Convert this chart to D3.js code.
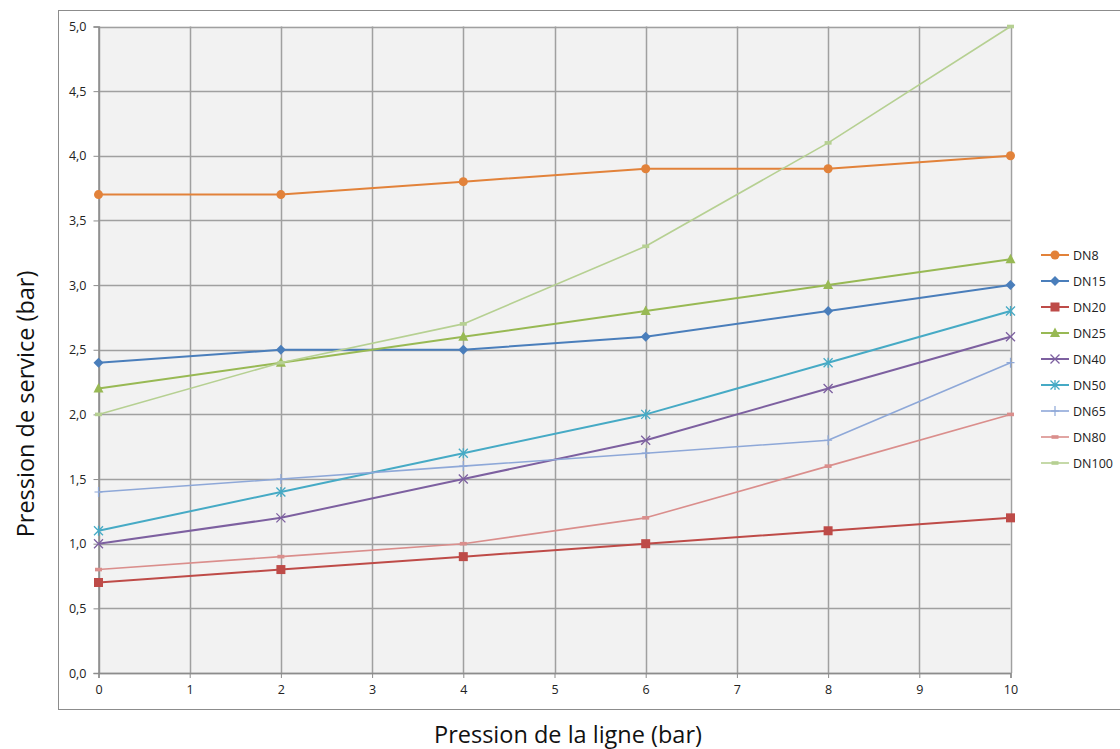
<!DOCTYPE html>
<html><head><meta charset="utf-8">
<script src="https://cdn.jsdelivr.net/npm/d3@7"></script>
<style>body{margin:0;background:#fff}svg{display:block}</style>
</head><body>
<svg id="c" width="1120" height="749"></svg>
<script>
const xValues = [0, 2, 4, 6, 8, 10];
const seriesNames = ["DN8","DN15","DN20","DN25","DN40","DN50","DN65","DN80","DN100"];
const DN8   = [3.7, 3.7, 3.8, 3.9, 3.9, 4.0];
const DN15  = [2.4, 2.5, 2.5, 2.6, 2.8, 3.0];
const DN20  = [0.7, 0.8, 0.9, 1.0, 1.1, 1.2];
const DN25  = [2.2, 2.4, 2.6, 2.8, 3.0, 3.2];
const DN40  = [1.0, 1.2, 1.5, 1.8, 2.2, 2.6];
const DN50  = [1.1, 1.4, 1.7, 2.0, 2.4, 2.8];
const DN65  = [1.4, 1.5, 1.6, 1.7, 1.8, 2.4];
const DN80  = [0.8, 0.9, 1.0, 1.2, 1.6, 2.0];
const DN100 = [2.0, 2.4, 2.7, 3.3, 4.1, 5.0];
const xTicks = [0,1,2,3,4,5,6,7,8,9,10];
const yTicks = [0,0.5,1,1.5,2,2.5,3,3.5,4,4.5,5];
const xTitle = "Pression de la ligne (bar)";
const yTitle = "Pression de service (bar)";

const seriesValues = [DN8, DN15, DN20, DN25, DN40, DN50, DN65, DN80, DN100];
const colors = ["#E2823A","#4A7EBB","#BE4B48","#98B954","#7D60A0","#46AAC5","#8EA8D8","#DA8E8C","#B6D092"];
const widths = [2,2,2,2,2,2,1.6,1.6,1.6];
const markers = ["circle","diamond","square","triangle","x","star","plus","dash","dash"];

const svg = d3.select("#c");
const L = 98.5, R = 1010.5, T = 26.5, B = 673;
const x = d3.scaleLinear().domain([0,10]).range([L,R]);
const y = d3.scaleLinear().domain([0,5]).range([B,T]);
const font = "'Open Sans', sans-serif";

// outer border
svg.append("rect").attr("x",58.5).attr("y",10.5).attr("width",1100).attr("height",699)
  .attr("fill","#fff").attr("stroke","#8c8c8c").attr("stroke-width",1);
// plot background
svg.append("rect").attr("x",L).attr("y",T).attr("width",R-L).attr("height",B-T).attr("fill","#f2f2f2");

// grid
svg.append("g").selectAll("line").data(yTicks).join("line")
  .attr("x1",L).attr("x2",R).attr("y1",d=>Math.round(y(d))+0.5).attr("y2",d=>Math.round(y(d))+0.5)
  .attr("stroke","#a0a0a0").attr("stroke-width",1.5);
svg.append("g").selectAll("line").data(xTicks).join("line")
  .attr("y1",T).attr("y2",B).attr("x1",d=>Math.round(x(d))+0.5).attr("x2",d=>Math.round(x(d))+0.5)
  .attr("stroke","#a0a0a0").attr("stroke-width",1.5);

// axes
const fmt = d3.format(".1f");
const yAxis = svg.append("g").attr("transform",`translate(${L},0)`)
  .call(d3.axisLeft(y).tickValues(yTicks).tickSize(5).tickPadding(7).tickFormat(d=>fmt(d).replace(".",",")));
const xAxis = svg.append("g").attr("transform",`translate(0,${B})`)
  .call(d3.axisBottom(x).tickValues(xTicks).tickSize(5).tickPadding(7).tickFormat(d3.format("d")));
[yAxis,xAxis].forEach(a=>{
  a.select(".domain").attr("stroke","#8c8c8c").attr("stroke-width",1.5);
  a.selectAll(".tick line").attr("stroke","#8c8c8c");
  a.selectAll("text").attr("font-family",font).attr("font-size",12.5).attr("fill","#222");
});

// titles
svg.append("text").attr("x",568).attr("y",743).attr("text-anchor","middle")
  .attr("font-family",font).attr("font-size",23.5).attr("fill","#111").text(xTitle);
svg.append("text").attr("transform","translate(34,404) rotate(-90)").attr("text-anchor","middle")
  .attr("font-family",font).attr("font-size",23.5).attr("fill","#111").text(yTitle);

function drawMarker(g, type, cx, cy, color){
  const s = g.append("g").attr("transform",`translate(${cx},${cy})`);
  switch(type){
    case "circle": s.append("circle").attr("r",4.5).attr("fill",color); break;
    case "diamond": s.append("path").attr("d","M0,-5L5,0L0,5L-5,0Z").attr("fill",color); break;
    case "square": s.append("rect").attr("x",-4.5).attr("y",-4.5).attr("width",9).attr("height",9).attr("fill",color); break;
    case "triangle": s.append("path").attr("d","M0,-5.5L5,4L-5,4Z").attr("fill",color); break;
    case "x": s.append("path").attr("d","M-4.5,-4.5L4.5,4.5M-4.5,4.5L4.5,-4.5").attr("stroke",color).attr("stroke-width",1.3).attr("fill","none"); break;
    case "star": s.append("path").attr("d","M-4.5,-4.5L4.5,4.5M-4.5,4.5L4.5,-4.5M0,-5L0,5").attr("stroke",color).attr("stroke-width",1.3).attr("fill","none"); break;
    case "plus": s.append("path").attr("d","M0,-5L0,5M-4,0L4,0").attr("stroke",color).attr("stroke-width",1.2).attr("fill","none"); break;
    case "dash": s.append("rect").attr("x",-3.5).attr("y",-1.8).attr("width",7).attr("height",3.6).attr("fill",color); break;
  }
}

const line = d3.line().x((d,i)=>x(xValues[i])).y(d=>y(d));
seriesValues.forEach((vals,k)=>{
  const g = svg.append("g");
  g.append("path").datum(vals).attr("d",line).attr("fill","none")
    .attr("stroke",colors[k]).attr("stroke-width",widths[k]).attr("stroke-linejoin","round");
  vals.forEach((v,i)=>drawMarker(g, markers[k], x(xValues[i]), y(v), colors[k]));
});

// legend
const lg = svg.append("g");
seriesNames.forEach((n,k)=>{
  const cy = 255 + k*26;
  lg.append("line").attr("x1",1041).attr("x2",1069).attr("y1",cy).attr("y2",cy)
    .attr("stroke",colors[k]).attr("stroke-width",widths[k]);
  drawMarker(lg, markers[k], 1055, cy, colors[k]);
  lg.append("text").attr("x",1073).attr("y",cy+4.5).attr("font-family",font).attr("font-size",12.5)
    .attr("fill","#222").text(n);
});
</script>
</body></html>
